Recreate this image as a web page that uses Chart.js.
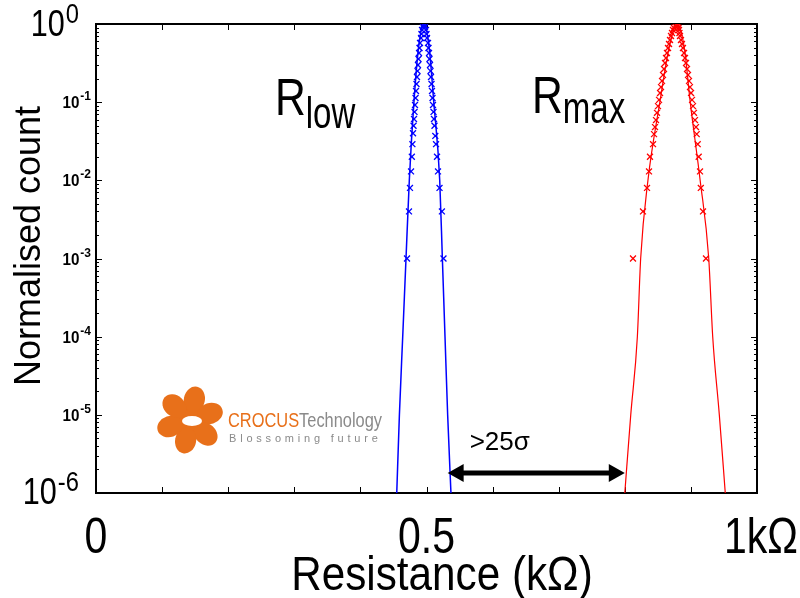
<!DOCTYPE html>
<html>
<head>
<meta charset="utf-8">
<title>Normalised count vs resistance</title>
<script src="https://cdn.jsdelivr.net/npm/chart.js@4.4.1/dist/chart.umd.min.js"></script>
<style>
  html, body { margin: 0; padding: 0; background: #fff; }
  #wrap { width: 800px; height: 598px; }
</style>
</head>
<body>
<div id="wrap"><canvas id="chart"></canvas></div>
<script>
// ---- data (kOhm, normalised count) ----
// fitted curves, read at each decade
const lowLineX = [0.455, 0.459, 0.464, 0.469, 0.474, 0.481, 0.488, 0.496, 0.504, 0.511, 0.520, 0.524, 0.528, 0.532, 0.537];
const lowLineY = [1e-6, 1e-5, 1e-4, 1e-3, 1e-2, 1e-1, 0.5, 1, 0.5, 1e-1, 1e-2, 1e-3, 1e-4, 1e-5, 1e-6];
const maxLineX = [0.800, 0.809, 0.819, 0.824, 0.835, 0.853, 0.867, 0.879, 0.890, 0.899, 0.914, 0.927, 0.933, 0.943, 0.952];
const maxLineY = [1e-6, 1e-5, 1e-4, 1e-3, 1e-2, 1e-1, 0.5, 1, 0.5, 1e-1, 1e-2, 1e-3, 1e-4, 1e-5, 1e-6];

// measured histogram points
const lowMarkX = [0.4705, 0.4735, 0.4750, 0.4766, 0.4778, 0.4787, 0.4796, 0.4804, 0.4811, 0.4819, 0.4826, 0.4834, 0.4841, 0.4849,
  0.4856, 0.4864, 0.4871, 0.4879, 0.4887, 0.4894, 0.4902, 0.4917, 0.4924, 0.4932, 0.4947, 0.4955, 0.4962,
  0.4970, 0.4977, 0.4992, 0.5000, 0.5008, 0.5023, 0.5030, 0.5038, 0.5045, 0.5053, 0.5061, 0.5068, 0.5076,
  0.5083, 0.5091, 0.5098, 0.5106, 0.5113, 0.5121, 0.5133, 0.5144, 0.5159, 0.5174, 0.5197, 0.5233, 0.5257];
const lowMarkY = [0.001, 0.004, 0.008, 0.013, 0.020, 0.029, 0.040, 0.050, 0.061, 0.075, 0.092, 0.113, 0.139, 0.171,
  0.210, 0.250, 0.299, 0.357, 0.426, 0.493, 0.571, 0.662, 0.745, 0.838, 0.916, 0.971, 1.0,
  0.971, 0.916, 0.838, 0.745, 0.662, 0.571, 0.493, 0.426, 0.357, 0.299, 0.250, 0.210, 0.171,
  0.139, 0.113, 0.092, 0.075, 0.061, 0.050, 0.037, 0.029, 0.020, 0.013, 0.008, 0.004, 0.001];
const maxMarkX = [0.8124, 0.8275, 0.8336, 0.8366, 0.8381, 0.8427, 0.8442, 0.8457, 0.8472, 0.8487, 0.8502, 0.8518, 0.8533, 0.8548, 0.8563,
  0.8578, 0.8593, 0.8608, 0.8623, 0.8638, 0.8654, 0.8669, 0.8684, 0.8699, 0.8714, 0.8729, 0.8744, 0.8759, 0.8775, 0.8790,
  0.8797, 0.8805, 0.8812, 0.8820, 0.8827, 0.8835, 0.8850, 0.8865, 0.8880, 0.8896, 0.8911, 0.8926, 0.8941, 0.8956, 0.8971,
  0.8986, 0.9002, 0.9017, 0.9032, 0.9047, 0.9062, 0.9077, 0.9088, 0.9103, 0.9118, 0.9138, 0.9150, 0.9183, 0.9228];
const maxMarkY = [0.001, 0.004, 0.008, 0.013, 0.020, 0.029, 0.039, 0.048, 0.059, 0.073, 0.089, 0.107, 0.131, 0.156, 0.187,
  0.223, 0.266, 0.317, 0.367, 0.426, 0.493, 0.555, 0.624, 0.702, 0.767, 0.838, 0.889, 0.943, 0.971, 1.0,
  0.971, 0.943, 0.889, 0.838, 0.767, 0.702, 0.624, 0.555, 0.493, 0.426, 0.367, 0.317, 0.266, 0.223, 0.187,
  0.156, 0.131, 0.107, 0.089, 0.073, 0.059, 0.048, 0.039, 0.029, 0.020, 0.013, 0.008, 0.004, 0.001];

// ---- axes ----
const xTickValues = [0, 0.1, 0.2, 0.3, 0.4, 0.5, 0.6, 0.7, 0.8, 0.9, 1];
const xLabelValues = [0, 0.5, 1];
const xLabels = ["0", "0.5", "1k\u03A9"];
const yDecades = [1, 1e-1, 1e-2, 1e-3, 1e-4, 1e-5, 1e-6];
const yExponents = ["0", "-1", "-2", "-3", "-4", "-5", "-6"];
const minorFactors = [2, 3, 4, 5, 6, 7, 8, 9];

// separation arrow (kOhm, count)
const gapFrom = 0.532, gapTo = 0.800, gapLevel = 1.8e-6;

const FONT = '"Liberation Sans", Arial, Helvetica, sans-serif';
const pts = (xs, ys) => xs.map((x, i) => ({ x, y: ys[i] }));

// text squeezed horizontally (the original figure is slightly stretched)
function txt(ctx, s, x, y, size, sx, o = {}) {
  ctx.save();
  ctx.font = (o.bold ? "bold " : "") + size + "px " + FONT;
  ctx.textAlign = o.align || "left";
  ctx.textBaseline = "alphabetic";
  ctx.fillStyle = o.color || "#000";
  ctx.translate(x, y);
  if (o.rot) ctx.rotate(o.rot);
  ctx.scale(sx, 1);
  ctx.fillText(s, 0, 0);
  const w = ctx.measureText(s).width * sx;
  ctx.restore();
  return w;
}
function seg(ctx, x1, y1, x2, y2) {
  ctx.beginPath(); ctx.moveTo(x1, y1); ctx.lineTo(x2, y2); ctx.stroke();
}

const frame = {
  id: "frame",
  beforeDatasetsDraw(chart) {
    const { ctx, chartArea: a, scales: { x, y } } = chart;
    ctx.save();
    ctx.strokeStyle = "#000";
    ctx.lineWidth = 1;
    xTickValues.forEach(v => {
      const px = Math.round(x.getPixelForValue(v)) + 0.5;
      seg(ctx, px, a.bottom, px, a.bottom - 6);
      seg(ctx, px, a.top, px, a.top + 6);
    });
    yDecades.forEach(d => {
      const py = Math.round(y.getPixelForValue(d)) + 0.5;
      seg(ctx, a.left, py, a.left + 6, py);
      seg(ctx, a.right, py, a.right - 6, py);
      if (d >= 1) return;
      minorFactors.forEach(f => {
        const my = Math.round(y.getPixelForValue(d * f)) + 0.5;
        seg(ctx, a.left, my, a.left + 3, my);
        seg(ctx, a.right, my, a.right - 3, my);
      });
    });
    ctx.lineWidth = 2;
    ctx.strokeRect(a.left, a.top, a.right - a.left, a.bottom - a.top);
    ctx.restore();
  },
  afterDatasetsDraw(chart) {
    const { ctx, chartArea: a, scales: { x, y } } = chart;

    // y tick labels with superscripts
    yDecades.forEach((d, i) => {
      const py = y.getPixelForValue(d);
      const big = i === 0 || i === yDecades.length - 1;
      ctx.font = (big ? "" : "bold ") + (big ? 27 : 12) + "px " + FONT;
      const ew = ctx.measureText(yExponents[i]).width * (big ? 0.88 : 1);
      ctx.font = (big ? "" : "bold ") + (big ? 36 : 16) + "px " + FONT;
      const bw = ctx.measureText("10").width * (big ? 0.85 : 0.95);
      const right = big ? 79 : 91;
      const bx = right - ew - bw - 1;
      if (big) {
        const base = i === 0 ? py + 12 : py + 11;
        txt(ctx, "10", bx, base, 36, 0.85);
        txt(ctx, yExponents[i], bx + bw + 1, base - 13, 27, 0.88);
      } else {
        txt(ctx, "10", bx, py + 6, 16, 0.95, { bold: true });
        txt(ctx, yExponents[i], bx + bw + 1, py - 2, 12, 1, { bold: true });
      }
    });

    // x tick labels and titles
    xLabelValues.forEach((v, i) => {
      txt(ctx, xLabels[i], x.getPixelForValue(v) + (i === 2 ? 4 : 0), 553, 50, 0.82, { align: "center" });
    });
    txt(ctx, "Resistance (k\u03A9)", 442, 590, 48, 0.88, { align: "center" });
    txt(ctx, "Normalised count", 40, 246, 36, 1, { align: "center", rot: -Math.PI / 2 });

    // peak names
    const w1 = txt(ctx, "R", 275, 115, 52, 0.82);
    txt(ctx, "low", 275 + w1, 128, 44, 0.75);
    const w2 = txt(ctx, "R", 532, 113, 52, 0.82);
    txt(ctx, "max", 532 + w2, 123, 44, 0.75);

    // separation arrow
    const ax1 = x.getPixelForValue(gapFrom), ax2 = x.getPixelForValue(gapTo);
    const ay = y.getPixelForValue(gapLevel);
    ctx.save();
    ctx.fillStyle = "#000";
    ctx.strokeStyle = "#000";
    ctx.lineWidth = 5;
    seg(ctx, ax1 + 12, ay, ax2 - 12, ay);
    ctx.beginPath();
    ctx.moveTo(ax1, ay); ctx.lineTo(ax1 + 16, ay - 9); ctx.lineTo(ax1 + 16, ay + 9); ctx.closePath();
    ctx.moveTo(ax2, ay); ctx.lineTo(ax2 - 16, ay - 9); ctx.lineTo(ax2 - 16, ay + 9); ctx.closePath();
    ctx.fill();
    ctx.restore();
    txt(ctx, ">25\u03C3", ax1 + 22, ay - 23, 26, 1);

    // company logo
    ctx.save();
    ctx.fillStyle = "#e8701a";
    const cx = 190, cy = 420;
    ctx.beginPath();
    ctx.arc(cx, cy, 18, 0, Math.PI * 2);
    ctx.fill();
    [-78, -18, 42, 102, 162, 222].forEach(deg => {
      const r = deg * Math.PI / 180;
      ctx.beginPath();
      ctx.ellipse(cx + Math.cos(r) * 21, cy + Math.sin(r) * 21, 13, 10.5, r, 0, Math.PI * 2);
      ctx.fill();
    });
    ctx.fillStyle = "#fff";
    ctx.beginPath();
    ctx.ellipse(cx + 2, cy + 1, 10, 5, 0, 0, Math.PI * 2);
    ctx.fill();
    ctx.restore();
    const cw = txt(ctx, "CROCUS", 228, 427, 20, 0.82, { color: "#e8701a" });
    txt(ctx, "Technology", 228 + cw, 427, 20, 0.82, { color: "#8a8a8a" });
    ctx.save();
    ctx.font = "11px " + FONT;
    ctx.fillStyle = "#8a8a8a";
    ctx.letterSpacing = "3.8px";
    ctx.fillText("Blossoming future", 229, 442);
    ctx.restore();
  }
};

new Chart(document.getElementById("chart"), {
  type: "scatter",
  data: {
    datasets: [
      { label: "Rlow fit", data: pts(lowLineX, lowLineY), showLine: true, borderColor: "#0000ff", borderWidth: 1.5,
        pointRadius: 0, cubicInterpolationMode: "monotone" },
      { label: "Rlow", data: pts(lowMarkX, lowMarkY), pointStyle: "crossRot", pointRadius: 4.2,
        borderColor: "#0000ff", backgroundColor: "#0000ff", borderWidth: 1.3 },
      { label: "Rmax fit", data: pts(maxLineX, maxLineY), showLine: true, borderColor: "#ff0000", borderWidth: 1.2,
        pointRadius: 0, cubicInterpolationMode: "monotone" },
      { label: "Rmax", data: pts(maxMarkX, maxMarkY), pointStyle: "crossRot", pointRadius: 4.2,
        borderColor: "#ff0000", backgroundColor: "#ff0000", borderWidth: 1.3 },
    ],
  },
  options: {
    responsive: true, maintainAspectRatio: false, animation: false,
    devicePixelRatio: 1,
    layout: { padding: { left: 96, top: 24, right: 43, bottom: 105 } },
    plugins: { legend: { display: false }, tooltip: { enabled: false } },
    scales: {
      x: { type: "linear", min: 0, max: 1, display: false },
      y: { type: "logarithmic", min: 1e-6, max: 1, display: false },
    },
  },
  plugins: [frame],
});
</script>
</body>
</html>
